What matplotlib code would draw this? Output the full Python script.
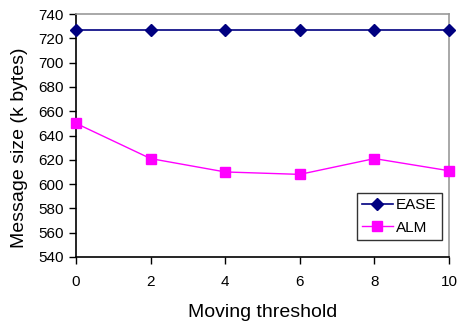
import matplotlib.pyplot as plt

plt.rcParams['font.family'] = ['Liberation Sans', 'DejaVu Sans']

# Moving threshold vs. message size
thresholds = [0, 2, 4, 6, 8, 10]
ease = [727, 727, 727, 727, 727, 727]
alm = [650, 621, 610, 608, 621, 611]

fig = plt.figure(figsize=(4.58, 3.24), dpi=100)
ax = fig.add_axes([76 / 458, 1 - 257 / 324, 373 / 458, 243 / 324])

ax.plot(thresholds, ease, color='#000080', marker='D', markersize=6,
        linewidth=1.2, label='EASE', clip_on=False, zorder=3)
ax.plot(thresholds, alm, color='#FF00FF', marker='s', markersize=7,
        linewidth=1.0, label='ALM', clip_on=False, zorder=3)

ax.set_xlim(0, 10)
ax.set_ylim(540, 740)
ax.set_xticks(thresholds)
ax.set_yticks(range(540, 741, 20))
ax.tick_params(axis='both', direction='out', length=5, width=1, labelsize=11)
ax.tick_params(axis='x', pad=8)
ax.tick_params(axis='y', pad=4)

for side in ('top', 'right'):
    ax.spines[side].set_color('#999999')
    ax.spines[side].set_linewidth(1.2)
for side in ('left', 'bottom'):
    ax.spines[side].set_color('black')
    ax.spines[side].set_linewidth(1.2)

ax.set_xlabel('Moving threshold', fontsize=14, labelpad=11)
ax.set_ylabel('Message size (k bytes)', fontsize=14)
ax.yaxis.set_label_coords(-0.128, 0.45)

leg = ax.legend(loc='lower right', bbox_to_anchor=(0.98, 0.07), fontsize=11,
                frameon=True, fancybox=False, edgecolor='black',
                handlelength=2.0, borderpad=0.35, labelspacing=0.55,
                handletextpad=0.2, borderaxespad=0.0)
leg.get_frame().set_linewidth(1.0)

fig.savefig('out.png', dpi=100)
